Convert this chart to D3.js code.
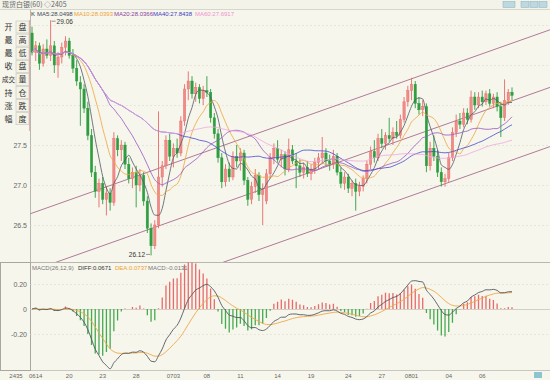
<!DOCTYPE html>
<html><head><meta charset="utf-8">
<script src="https://cdn.jsdelivr.net/npm/d3@7"></script>
<style>body{margin:0;background:#f6f6ec}svg{display:block}</style>
</head><body><svg id="c" width="550" height="380"></svg>
<script>
// ---------- data ----------
const opens  = [28.90,28.66,28.74,28.52,28.70,28.62,28.74,28.50,28.60,28.72,28.80,28.62,28.46,28.28,28.20,27.96,27.62,27.16,26.92,27.02,26.82,26.90,26.78,27.58,27.44,27.50,27.26,27.08,27.16,27.00,27.12,26.80,26.46,26.24,26.50,27.10,27.24,27.56,27.36,27.46,27.40,27.80,28.20,28.30,28.14,28.22,28.08,28.18,28.16,27.84,27.64,27.34,27.04,27.20,27.10,27.36,27.30,27.40,27.06,26.82,26.98,27.12,26.88,26.80,27.14,27.34,27.46,27.32,27.38,27.20,27.44,27.30,27.24,27.16,27.22,27.14,27.20,27.28,27.34,27.40,27.30,27.26,27.36,27.16,27.02,27.10,26.96,27.02,26.92,26.98,27.08,27.26,27.42,27.34,27.58,27.52,27.62,27.58,27.66,27.62,27.82,28.04,28.18,28.26,28.02,27.94,27.98,27.24,27.46,27.36,27.16,27.04,27.08,27.34,27.66,27.80,27.76,27.90,27.82,28.10,28.00,28.10,28.04,28.14,28.02,28.10,27.98,27.84,28.06,28.16];
const highs  = [28.98,28.80,28.78,28.76,28.82,29.06,28.80,28.66,28.78,28.86,28.84,28.70,28.56,28.36,28.26,28.04,27.70,27.24,27.08,27.10,26.98,26.96,27.66,27.62,27.56,27.54,27.34,27.22,27.24,27.20,27.16,26.86,26.52,26.56,27.92,27.30,27.62,27.64,27.52,27.58,27.86,28.26,28.42,28.36,28.28,28.26,28.24,28.36,28.20,27.90,27.70,27.40,27.26,27.28,27.42,27.50,27.46,27.44,27.10,27.04,27.20,27.16,27.02,27.20,27.40,27.52,27.56,27.44,27.42,27.58,27.50,27.40,27.32,27.28,27.30,27.26,27.34,27.40,27.60,27.46,27.38,27.44,27.40,27.22,27.16,27.14,27.06,27.08,27.04,27.12,27.30,27.48,27.56,27.64,27.70,27.66,27.84,27.72,27.80,27.88,28.10,28.24,28.34,28.30,28.10,28.06,28.02,27.54,27.62,27.44,27.22,27.14,27.40,27.72,27.88,27.90,27.96,27.96,28.18,28.16,28.16,28.18,28.18,28.20,28.14,28.16,28.04,28.32,28.20,28.22];
const lows   = [28.62,28.55,28.44,28.48,28.58,28.55,28.40,28.34,28.52,28.62,28.58,28.40,28.24,27.74,27.90,27.56,27.10,26.84,26.72,26.76,26.62,26.68,26.74,27.36,27.30,27.20,27.02,26.96,26.72,26.92,26.74,26.40,26.12,26.20,26.46,26.98,27.20,27.30,27.22,27.34,27.36,27.74,28.06,28.08,28.04,28.02,28.00,28.10,27.78,27.58,27.28,26.96,26.98,27.04,27.06,27.22,27.18,27.00,26.74,26.76,26.90,26.80,26.50,26.76,27.08,27.26,27.28,27.22,27.12,27.16,27.26,26.96,27.10,27.08,27.10,27.06,27.14,27.20,27.26,27.24,27.18,27.20,27.12,26.96,26.94,26.90,26.86,26.68,26.86,26.92,27.02,27.20,27.28,27.30,27.46,27.44,27.54,27.50,27.58,27.58,27.78,27.98,28.06,27.96,27.88,27.86,27.16,27.18,27.30,27.10,26.98,26.98,27.04,27.30,27.60,27.70,27.72,27.76,27.78,27.94,27.96,27.98,28.00,27.98,27.96,27.92,27.60,27.80,28.00,28.06];
const closes = [28.66,28.74,28.52,28.70,28.62,28.74,28.50,28.60,28.72,28.80,28.62,28.46,28.30,28.20,27.96,27.62,27.16,26.92,27.02,26.82,26.90,26.78,27.58,27.44,27.50,27.26,27.08,27.16,27.00,27.12,26.80,26.46,26.24,26.50,27.10,27.24,27.56,27.36,27.46,27.40,27.80,28.20,28.30,28.14,28.22,28.08,28.18,28.16,27.84,27.64,27.34,27.04,27.20,27.10,27.36,27.30,27.40,27.06,26.82,26.98,27.12,26.88,26.94,27.14,27.34,27.46,27.32,27.38,27.20,27.44,27.30,27.24,27.16,27.22,27.14,27.20,27.28,27.34,27.40,27.30,27.26,27.36,27.16,27.02,27.10,26.96,27.02,26.92,26.98,27.08,27.26,27.42,27.34,27.58,27.52,27.62,27.58,27.66,27.62,27.82,28.04,28.18,28.26,28.02,27.94,27.98,27.24,27.46,27.36,27.16,27.04,27.08,27.34,27.66,27.80,27.76,27.90,27.82,28.10,28.00,28.10,28.04,28.14,28.02,28.10,27.98,27.84,28.06,28.16,28.12];

const priceTicks = [27.5, 27.0, 26.5];
const priceTickLabels = ["27.5", "27.0", "26.5"];
const gridPrices = [26.5, 27.0, 27.5, 28.0, 28.5, 29.0];
const macdTicks = [0.2, 0, -0.2];
const macdTickLabels = ["0.20", "0", "-0.20"];
const dateTickIdx = [1,10,19,28,38,47,56,66,75,85,94,102,112,121];
const dateLabels = ["0614","20","23","28","0703","08","11","14","19","24","27","0801","04","06"];
const maPeriods = [5, 10, 20, 40, 60];
const maNames = ["MA5:28.0498","MA10:28.0393","MA20:28.0366","MA40:27.8438","MA60:27.6917"];
const channelIdx = [-1.1, 139.2];
const channelUpper = [26.63, 28.94];
const channelMiddle = [25.91, 28.22];
const channelLower = [25.17, 27.48];
const buttonLeft = ["开","最","最","收","成交","持","涨","幅"];
const buttonRight = ["盘","高","低","盘","量","仓","跌","度"];
const macdTitle = ["MACD(26,12,9)", "DIFF:0.0671", "DEA:0.0737", "MACD:-0.0131"];

// ---------- derived ----------
const N = closes.length;
const bars = closes.map((c,i)=>({i, o:opens[i], h:highs[i], l:lows[i], c}));
function ma(p){ return closes.map((c,i)=>{const s=Math.max(0,i-p+1); return d3.mean(closes.slice(s,i+1));}); }
function ema(arr,p){ const k=2/(p+1); const out=[]; arr.forEach((v,i)=>out.push(i===0?v:out[i-1]+k*(v-out[i-1]))); return out; }
const e12 = ema(closes,12), e26 = ema(closes,26);
const diff = e12.map((v,i)=>v-e26[i]);
const dea = ema(diff,9);
const macdHist = diff.map((v,i)=>2*(v-dea[i]));

// ---------- layout ----------
const svg = d3.select("#c");
const F = "'Liberation Sans', Arial, sans-serif";
const CJK = "'Noto Sans CJK SC', sans-serif";
const x = d3.scaleLinear().domain([0, N-1]).range([32, 512]);
const y = d3.scaleLinear().domain([27, 28]).range([185, 105]);
const ym = d3.scaleLinear().domain([0, 0.2]).range([309, 284]);
const plotL = 30, plotR = 550, mainT = 9.5, mainB = 262, macdB = 370;

svg.append("rect").attr("width",550).attr("height",380).attr("fill","#f6f6ec");
const defs = svg.append("defs");
defs.append("clipPath").attr("id","cm").append("rect").attr("x",plotL+0.5).attr("y",mainT+0.5).attr("width",plotR-plotL).attr("height",mainB-mainT-0.5);
defs.append("clipPath").attr("id","cd").append("rect").attr("x",plotL+0.5).attr("y",mainB+0.5).attr("width",plotR-plotL).attr("height",macdB-mainB-1);

// header
svg.append("rect").attr("x",0).attr("y",0).attr("width",550).attr("height",mainT).attr("fill","#f3f3ea");
svg.append("text").attr("x",2).attr("y",7).attr("font-family",CJK).attr("font-size",7).attr("fill","#666").text("现货白银(60) ◇2405");
svg.append("rect").attr("x",503).attr("y",1.5).attr("width",12).attr("height",6).attr("fill","#bcd8e0").attr("stroke","#8ab0c0").attr("stroke-width",0.5);
[0,1,2].forEach(k=>svg.append("rect").attr("x",521+k*9).attr("y",1.5).attr("width",8).attr("height",6).attr("fill","#bcd8e0").attr("stroke","#8ab0c0").attr("stroke-width",0.5));
svg.append("line").attr("x1",0).attr("x2",550).attr("y1",mainT).attr("y2",mainT).attr("stroke","#d6d6cc");

// frame lines
svg.append("line").attr("x1",plotL+0.5).attr("x2",plotL+0.5).attr("y1",mainT).attr("y2",macdB).attr("stroke","#b8b8b0");
svg.append("line").attr("x1",0).attr("x2",550).attr("y1",mainB+0.5).attr("y2",mainB+0.5).attr("stroke","#b8b8b0");
svg.append("line").attr("x1",0).attr("x2",550).attr("y1",macdB+0.5).attr("y2",macdB+0.5).attr("stroke","#c8c8c0");
svg.append("rect").attr("x",0.5).attr("y",mainB+0.5).attr("width",plotL).attr("height",macdB-mainB).attr("fill","none").attr("stroke","#a8a8a0");

// grid
const gm = svg.append("g").attr("clip-path","url(#cm)");
gm.selectAll("line.g").data(gridPrices).join("line").attr("x1",plotL).attr("x2",plotR)
  .attr("y1",d=>Math.round(y(d))+0.5).attr("y2",d=>Math.round(y(d))+0.5).attr("stroke","#e6e6da").attr("stroke-dasharray","2,2");
const gd = svg.append("g").attr("clip-path","url(#cd)");
gd.selectAll("line.g").data(macdTicks).join("line").attr("x1",plotL).attr("x2",plotR)
  .attr("y1",d=>Math.round(ym(d))+0.5).attr("y2",d=>Math.round(ym(d))+0.5).attr("stroke",d=>d===0?"#d0d0c4":"#e6e6da").attr("stroke-dasharray",d=>d===0?null:"2,2");

// channel lines
[channelUpper, channelMiddle, channelLower].forEach(ch=>{
  gm.append("line").attr("x1",x(channelIdx[0])).attr("x2",x(channelIdx[1])).attr("y1",y(ch[0])).attr("y2",y(ch[1]))
    .attr("stroke","#b07a98").attr("stroke-width",1);
});

// candles
const bw = 2.4;
const upC = "#e86a6a", dnC = "#2f9e40";
gm.selectAll("line.w").data(bars).join("line").attr("x1",d=>x(d.i)).attr("x2",d=>x(d.i))
  .attr("y1",d=>y(d.h)).attr("y2",d=>y(d.l)).attr("stroke",d=>d.c>=d.o?upC:dnC).attr("stroke-width",0.9);
gm.selectAll("rect.b").data(bars).join("rect").attr("x",d=>x(d.i)-bw/2).attr("width",bw)
  .attr("y",d=>y(Math.max(d.o,d.c))).attr("height",d=>Math.max(1,Math.abs(y(d.o)-y(d.c))))
  .attr("fill",d=>d.c>=d.o?"#f08c88":dnC).attr("stroke",d=>d.c>=d.o?upC:dnC).attr("stroke-width",0.4);

// moving averages
const maColors = ["#505a66","#f0a640","#9a58c0","#4a4ad0","#f0a8e0"];
const lineGen = d3.line().x((d,i)=>x(i)).y(d=>y(d)).curve(d3.curveMonotoneX);
maPeriods.forEach((p,k)=>{
  gm.append("path").datum(ma(p)).attr("d",lineGen).attr("fill","none").attr("stroke",maColors[k]).attr("stroke-width",0.9).attr("opacity",0.9);
});

// annotations high / low
const hiI = d3.maxIndex(highs), loI = d3.minIndex(lows);
svg.append("line").attr("x1",x(hiI)+1).attr("x2",x(hiI)+5).attr("y1",y(highs[hiI])+1).attr("y2",y(highs[hiI])+1).attr("stroke","#555").attr("stroke-width",0.6);
svg.append("text").attr("x",x(hiI)+6).attr("y",y(highs[hiI])+3.5).attr("font-family",F).attr("font-size",6.5).attr("fill","#333").text(highs[hiI].toFixed(2));
svg.append("line").attr("x1",x(loI)-5).attr("x2",x(loI)-1).attr("y1",y(lows[loI])-1).attr("y2",y(lows[loI])-1).attr("stroke","#555").attr("stroke-width",0.6);
svg.append("text").attr("x",x(loI)-6).attr("y",y(lows[loI])+1.5).attr("text-anchor","end").attr("font-family",F).attr("font-size",6.5).attr("fill","#333").text(lows[loI].toFixed(2));

// legend
svg.append("text").attr("x",31).attr("y",16).attr("font-family",F).attr("font-size",6).attr("fill","#333").text("K");
const legX = [37, 74, 114, 153, 195];
const legColors = ["#404858","#f0a030","#8a3ca0","#4040c0","#f090d0"];
maNames.forEach((t,k)=>svg.append("text").attr("x",legX[k]).attr("y",16).attr("font-family",F).attr("font-size",6).attr("fill",legColors[k]).text(t));

// y axis labels
svg.selectAll("text.pt").data(priceTicks).join("text").attr("x",27).attr("y",d=>y(d)+2.5).attr("text-anchor","end")
  .attr("font-family",F).attr("font-size",7).attr("fill","#666").text((d,i)=>priceTickLabels[i]);
svg.selectAll("text.mt").data(macdTicks).join("text").attr("x",27).attr("y",d=>ym(d)+2.5).attr("text-anchor","end")
  .attr("font-family",F).attr("font-size",7).attr("fill","#666").text((d,i)=>macdTickLabels[i]);

// left buttons
buttonLeft.forEach((t,k)=>{
  const cy = 27 + k*13.1;
  svg.append("rect").attr("x",16).attr("y",cy-6).attr("width",13).attr("height",12).attr("fill","#f3f3e8").attr("stroke","#c4c4ba").attr("stroke-width",0.6);
  svg.append("text").attr("x",8.5).attr("y",cy+3).attr("text-anchor","middle").attr("font-family",CJK).attr("font-size",t.length>1?6.5:8).attr("fill","#333").text(t);
  svg.append("text").attr("x",22.5).attr("y",cy+3).attr("text-anchor","middle").attr("font-family",CJK).attr("font-size",8).attr("fill","#333").text(buttonRight[k]);
});
svg.append("line").attr("x1",29.5).attr("x2",29.5).attr("y1",20).attr("y2",131).attr("stroke","#e0a0a0").attr("stroke-width",0.8);

// MACD
gd.selectAll("line.h").data(macdHist).join("line").attr("x1",(d,i)=>x(i)).attr("x2",(d,i)=>x(i))
  .attr("y1",ym(0)).attr("y2",d=>ym(d)).attr("stroke",d=>d>=0?"#e86a6a":"#46aa50").attr("stroke-width",1.3);
const mline = d3.line().x((d,i)=>x(i)).y(d=>ym(d)).curve(d3.curveMonotoneX);
gd.append("path").datum(dea).attr("d",mline).attr("fill","none").attr("stroke","#f0a848").attr("stroke-width",0.9);
gd.append("path").datum(diff).attr("d",mline).attr("fill","none").attr("stroke","#505860").attr("stroke-width",0.9);
const mtX = [32, 78, 115, 148], mtC = ["#777","#333","#f0a030","#777"];
macdTitle.forEach((t,k)=>svg.append("text").attr("x",mtX[k]).attr("y",270).attr("font-family",F).attr("font-size",6).attr("fill",mtC[k]).text(t));

// x axis labels
svg.append("text").attr("x",16).attr("y",377.5).attr("text-anchor","middle").attr("font-family",F).attr("font-size",6).attr("fill","#666").text("2435");
svg.selectAll("text.dt").data(dateTickIdx).join("text").attr("x",d=>x(d)).attr("y",377.5).attr("text-anchor","middle")
  .attr("font-family",F).attr("font-size",6).attr("fill","#666").text((d,i)=>dateLabels[i]);
svg.append("rect").attr("x",534).attr("y",372).attr("width",8).attr("height",6).attr("fill","#8cc4d0");
</script></body></html>
